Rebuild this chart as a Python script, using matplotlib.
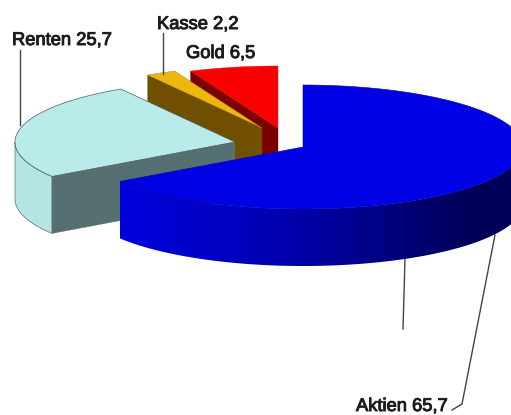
import numpy as np
import matplotlib
matplotlib.use("Agg")
import matplotlib.pyplot as plt
from matplotlib.patches import Polygon
from matplotlib.colors import to_rgb
import matplotlib.patheffects as pe

# Data
categories = ["Aktien", "Renten", "Kasse", "Gold"]
values = [65.7, 25.7, 2.2, 6.5]
value_labels = ["65,7", "25,7", "2,2", "6,5"]

# Styles / layout
top_colors = ["#0000E4", "#BAEBEB", "#EDB80E", "#FA0000"]
face_colors = ["#0000A0", "#566F70", "#705000", "#7A0000"]
rim_colors = ["#0000A0", "#B4E4E4", "#705000", "#7A0000"]
apex = [(303, 147), (235, 142), (262, 128), (278, 128)]
RX, RY, DEPTH = 220, 62, 57

fig = plt.figure(figsize=(5.11, 4.15), dpi=100, facecolor="white")
ax = fig.add_axes([0, 0, 1, 1])
ax.set_xlim(0, 511)
ax.set_ylim(415, 0)
ax.axis("off")

# Wedge angles, clockwise from 12 o'clock
bounds = 90 - np.concatenate([[0], np.cumsum(values)]) * 360 / sum(values)


def pt(c, deg, dz=0.0):
    a = np.radians(deg)
    return c[0] + RX * np.cos(a), c[1] - RY * np.sin(a) + dz


def arc(c, a0, a1, dz=0.0, n=120):
    return [pt(c, a, dz) for a in np.linspace(a0, a1, n)]


def cut_face(c, a, color, z):
    p = pt(c, a)
    q = (c[0], c[1])
    ax.add_patch(Polygon([p, q, (q[0], q[1] + DEPTH), (p[0], p[1] + DEPTH)],
                         closed=True, fc=color, ec=color, lw=0.3, zorder=z))


def top(i, z, edge="#334444", lw=0.5):
    c = apex[i]
    a0, a1 = bounds[i], bounds[i + 1]
    ax.add_patch(Polygon([c] + arc(c, a0, a1), closed=True, fc=top_colors[i],
                         ec=edge, lw=lw, zorder=z))


# Gold
cut_face(apex[3], bounds[3], face_colors[3], 1)
top(3, 2, edge=top_colors[3], lw=0.3)

# Kasse
cut_face(apex[2], bounds[2], face_colors[2], 3)
top(2, 4, edge="#A08010", lw=0.3)

# Renten: rim left of the cut face
c = apex[1]
a0 = bounds[1] + 360 if bounds[1] < 0 else bounds[1]
ax.add_patch(Polygon(arc(c, 180, a0) + arc(c, a0, 180, DEPTH), closed=True,
                     fc=rim_colors[1], ec="#5a6e6e", lw=0.5, zorder=5))
cut_face(c, a0, face_colors[1], 6)
top(1, 7, edge="#4a6060", lw=0.5)

# Aktien: rim with a smooth horizontal shading, front half only
c = apex[0]
shade_angles = np.array([-146.5, -115, -90, -65, -40, -20, 0])
shade_colors = ["#0000DC", "#0000C8", "#0000A8", "#00007C", "#000058", "#000058", "#000078"]
shade_rgb = np.array([to_rgb(s) for s in shade_colors])
shade_x = c[0] + RX * np.cos(np.radians(shade_angles))
xs = np.arange(0, 512)
grad = np.stack([np.interp(xs, shade_x, shade_rgb[:, k]) for k in range(3)], axis=-1)[None, :, :]
im = ax.imshow(grad, extent=(0, 511, 415, 0), aspect="auto", zorder=8, interpolation="bilinear")
rim = Polygon(arc(c, bounds[1], 0) + arc(c, 0, bounds[1], DEPTH), closed=True,
              fc="none", ec="none", transform=ax.transData)
ax.add_patch(rim)
im.set_clip_path(rim)
ax.set_xlim(0, 511)
ax.set_ylim(415, 0)
top(0, 9, edge="#0000B0", lw=0.4)

# Leader lines
leader_color = "#444444"
ax.plot([20, 20], [50, 125], color=leader_color, lw=1.0, zorder=10)
ax.plot([163, 163], [33, 74], color=leader_color, lw=1.0, zorder=10)
ax.plot([405, 403], [259, 329], color=leader_color, lw=1.0, zorder=7.5)
ax.plot([495, 462, 452], [235, 404, 410], color=leader_color, lw=1.0, zorder=10)

# Labels
label_pos = {"Aktien": (356, 411), "Renten": (12, 45), "Kasse": (157, 29), "Gold": (186, 58)}
for name, val in zip(categories, value_labels):
    x, y = label_pos[name]
    ax.text(x, y, f"{name} {val}", family="Liberation Sans", fontsize=13.2,
            color="#1c1c1c", ha="left", va="baseline", zorder=11,
            path_effects=[pe.withStroke(linewidth=0.7, foreground="#1c1c1c")])

fig.savefig("out.png", dpi=100, facecolor="white")
